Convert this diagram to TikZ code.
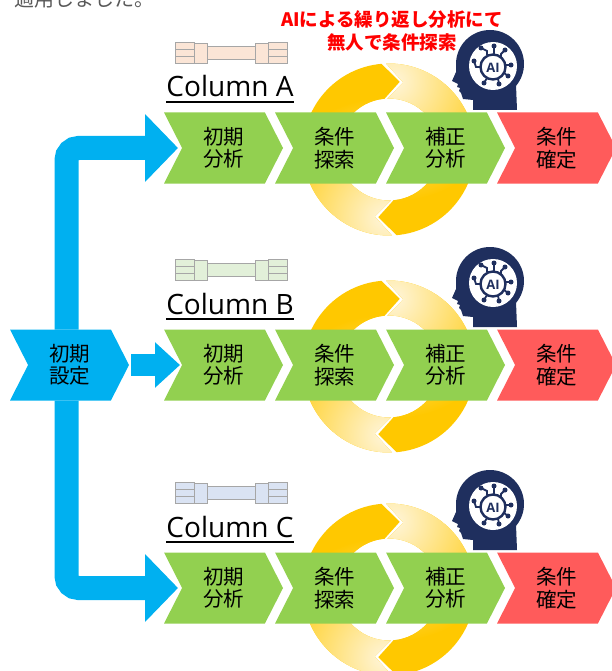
\documentclass[tikz,border=0pt]{standalone}
\usepackage{fontspec}
\setmainfont{Open Sans}
\newfontfamily\jp{Noto Sans CJK JP}
\usetikzlibrary{shapes.symbols,arrows.meta}

\definecolor{stepgreen}{HTML}{92D050}
\definecolor{stepred}{HTML}{FF5B5B}
\definecolor{flowblue}{HTML}{00B0F0}
\definecolor{ringgold}{HTML}{FFC800}
\definecolor{ringpale}{HTML}{FFF5DA}
\definecolor{ainavy}{HTML}{1F2F5E}
\definecolor{tubeedge}{HTML}{A6A6A6}
\definecolor{tubeA}{HTML}{FBE5D6}
\definecolor{tubeB}{HTML}{E2F0D9}
\definecolor{tubeC}{HTML}{DAE3F3}

\tikzset{
  chev/.style={signal, signal from=west, signal to=east, signal pointer angle=126,
    minimum width=119pt, minimum height=71pt, inner sep=0pt, outer sep=0pt,
    align=center, font={\jp\fontsize{20.5pt}{22.5pt}\selectfont}},
  collabel/.style={inner sep=0pt, anchor=base, font={\fontsize{28pt}{30pt}\selectfont}},
  flow/.style={draw=flowblue, line width=24pt, rounded corners=12pt},
  tube/.style={draw=tubeedge, line width=0.8pt}
}

\begin{document}
\begin{tikzpicture}[x=1pt,y=-1pt]
\useasboundingbox (0,0) rectangle (612,671);

%text cut at the top
\node[anchor=base west, inner sep=0pt, text=black!65, font={\jp\fontsize{20pt}{22pt}\selectfont}] (toptext) at (14,7) {適用しました。};

%note
\node[align=center, inner sep=0pt, text=red, font={\jp\bfseries\fontsize{18.5pt}{22.5pt}\selectfont}] (ainote) at (392,31) {AIによる繰り返し分析にて\\無人で条件探索};

\foreach \r/\y/\name/\tubecol in {a/148/A/tubeA, b/365/B/tubeB, c/588/C/tubeC}{
  %ring of two arrows
  \begin{scope}[shift={(389,\y+1.5)}]
  \foreach \a in {88,268}{
    \begin{scope}
    \clip (\a:86) arc[start angle=\a, end angle=\a+177, radius=86] -- (\a+191:68.5)
      -- (\a+177:51) arc[start angle=\a+177, end angle=\a, radius=51] -- (\a+14:68.5) -- cycle;
    \fill[ringgold] (0,0) circle (90);
    \shade[inner color=ringpale, outer color=ringgold] (\a+6:68.5) circle (120);
    \end{scope}
  }
  \end{scope}

  %steps
  \foreach \i/\txt/\col in {1/{初期\\分析}/stepgreen, 2/{条件\\探索}/stepgreen, 3/{補正\\分析}/stepgreen, 4/{条件\\確定}/stepred}{
    \node[chev, fill=\col] (\r\i) at (112.5+111*\i,\y) {\txt};
  }

  %column
  \begin{scope}[shift={(231,\y-95)}, tube]
  \filldraw[fill=\tubecol] (-56,-10.5) rectangle (-37,10.5);
  \draw (-56,-3.5) -- (-37,-3.5) (-56,3.5) -- (-37,3.5);
  \filldraw[fill=\tubecol] (-37,-10) rectangle (-24,10);
  \filldraw[fill=\tubecol] (-24,-6.5) rectangle (24,6.5);
  \filldraw[fill=\tubecol] (24,-10) rectangle (37,10);
  \filldraw[fill=\tubecol] (37,-10.5) rectangle (56,10.5);
  \draw (37,-3.5) -- (56,-3.5) (37,3.5) -- (56,3.5);
  \end{scope}
  \node[collabel] (lab\r) at (230,\y-51) {Column \name};
  \draw[line width=1.3pt] ([yshift=-5pt]lab\r.base west) -- ([yshift=-5pt]lab\r.base east);

  %AI head
  \begin{scope}[shift={(490,\y-84)}]
  \fill[ainavy] (-17,46) -- (-17,36) -- (-27,35) -- (-29,29) -- (-31,27) -- (-30,24) -- (-33,23)
    -- (-32,20) -- (-38,17) -- (-34,8) -- (-34,0) arc[start angle=180, end angle=400, radius=34]
    -- (27,46) -- cycle;
  \fill[white] (3,2) circle (24);
  \draw[ainavy, line width=2.4pt] (3,3) circle (12.5);
  \node[text=ainavy, inner sep=0pt, font={\bfseries\fontsize{13pt}{13pt}\selectfont}] (ai\r) at (3,3.5) {AI};
  \begin{scope}[ainavy, line width=1.8pt]
  \draw (-3,-9) -- (-3,-13) -- (-9,-16);
  \draw (4,-9.5) -- (4,-18);
  \draw (11,-7) -- (11,-10) -- (15,-14);
  \draw (15.5,1) -- (21,1);
  \draw (14,9) -- (18,12);
  \draw (8,14.5) -- (9,20);
  \draw (-3,14) -- (-6,19);
  \draw (-9.5,3) -- (-14,3) -- (-16,-3);
  \foreach \p in {(-9,-16),(4,-18),(15,-14),(21,1),(18,12),(9,20),(-6,19),(-16,-3)}
    \fill \p circle (2.5);
  \end{scope}
  \end{scope}
}

%setup
\node[chev, fill=flowblue] (init) at (69.5,365) {初期\\設定};

%arrows
\draw[flow, -{Triangle[length=33pt,width=66pt]}] ([xshift=-3pt]init.north) |- ([xshift=-45.5pt]a1.center);
\draw[flow, -{Triangle[length=33pt,width=66pt]}] ([xshift=-3pt]init.south) |- ([xshift=-45.5pt]c1.center);
\draw[draw=flowblue, line width=22pt, -{Triangle[length=25pt,width=44pt]}] ([xshift=2pt]init.east) -- ([xshift=-43.5pt]b1.center);
\end{tikzpicture}
\end{document}
